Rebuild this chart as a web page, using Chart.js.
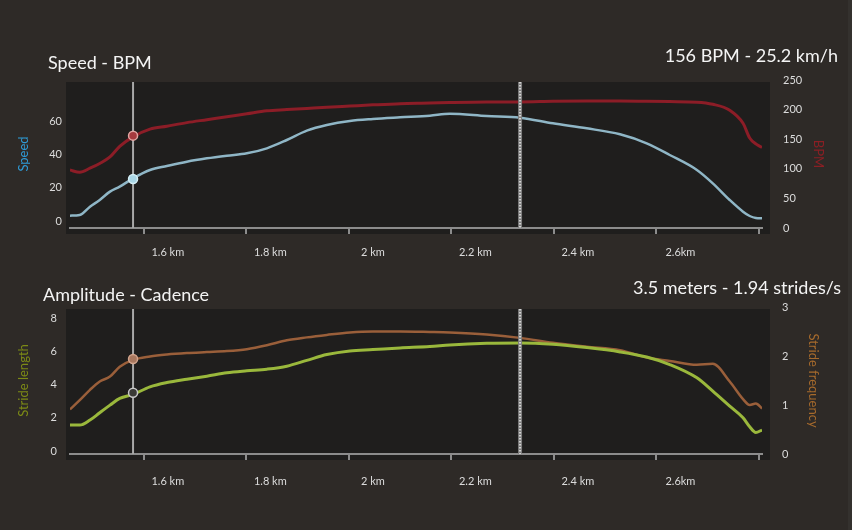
<!DOCTYPE html>
<html>
<head>
<meta charset="utf-8">
<title>Speed - BPM / Amplitude - Cadence</title>
<script src="https://cdn.jsdelivr.net/npm/chart.js@4.4.1/dist/chart.umd.min.js"></script>
<style>
  html, body { margin: 0; padding: 0; background: #2e2a27; }
  #page { position: relative; width: 852px; height: 530px; overflow: hidden; font-family: Lato, sans-serif; color: #f4f4f4; }
  .panel { position: absolute; left: 0; width: 852px; height: 265px; }
  .heading { position: absolute; font-size: 18px; line-height: 18px; white-space: nowrap; }
  #edge { position: absolute; left: 848px; top: 0; width: 4px; height: 530px; background: #34312e; }
</style>
</head>
<body>
<div id="page">
  <div class="panel" style="top:0"><canvas id="topChart" width="852" height="265"></canvas></div>
  <div class="panel" style="top:265px"><canvas id="bottomChart" width="852" height="265"></canvas></div>
  <div class="heading" style="left:48px; top:53px">Speed - BPM</div>
  <div class="heading" id="topReadout" style="right:14px; top:46px"></div>
  <div class="heading" style="left:43px; top:285px">Amplitude - Cadence</div>
  <div class="heading" id="bottomReadout" style="right:11px; top:278px"></div>
  <div id="edge"></div>
</div>

<script>
// distance along the run (km), shared by all four series
const distanceKm = [1.456, 1.475, 1.495, 1.514, 1.534, 1.553, 1.579, 1.612, 1.645, 1.684, 1.723, 1.762,
  1.801, 1.840, 1.879, 1.918, 1.957, 2.002, 2.047, 2.100, 2.158, 2.197, 2.269, 2.334,
  2.398, 2.464, 2.529, 2.581, 2.626, 2.679, 2.710, 2.743, 2.769, 2.782, 2.794, 2.806];

// top chart
const speedKmh = [3.2, 3.6, 8.6, 12.6, 17.6, 20.6, 25.6, 30.6, 33, 35.6, 37.6, 39.2,
  40.6, 43.6, 48.6, 54.2, 57.6, 60, 61.2, 62.2, 63.2, 64.4, 63, 62,
  58.6, 55.6, 52, 46.6, 39.6, 30.6, 22.6, 12.6, 5.6, 3, 1.8, 1.6];
const heartBpm = [98, 94, 101, 109, 120, 138, 154, 167, 172, 178, 183, 188,
  193, 198, 200, 202, 204, 206, 208, 210, 211, 212, 213, 213,
  214, 214.5, 214.5, 214, 213.5, 212.5, 209, 199, 177, 152, 142, 136];

// bottom chart
const strideLength = [1.56, 1.56, 1.86, 2.3, 2.76, 3.16, 3.4, 3.86, 4.12, 4.32, 4.5, 4.7,
  4.82, 4.92, 5.1, 5.45, 5.8, 6.02, 6.1, 6.2, 6.28, 6.38, 6.48, 6.5,
  6.42, 6.22, 5.96, 5.65, 5.2, 4.4, 3.6, 2.7, 2.0, 1.46, 1.12, 1.26];
const strideFreq = [0.91, 1.1, 1.31, 1.48, 1.58, 1.78, 1.92, 1.99, 2.03, 2.06, 2.08, 2.1,
  2.14, 2.22, 2.32, 2.38, 2.43, 2.48, 2.5, 2.5, 2.49, 2.48, 2.44, 2.37,
  2.27, 2.19, 2.12, 1.97, 1.9, 1.82, 1.84, 1.48, 1.12, 1.0, 1.03, 0.93];

// x axis ticks
const tickKm = [1.6, 1.8, 2.0, 2.2, 2.4, 2.6, 2.8];
const tickLabels = ['1.6 km', '1.8 km', '2 km', '2.2 km', '2.4 km', '2.6km', ''];

// y axis ticks
const speedTicks = [0, 20, 40, 60];
const bpmTicks = [0, 50, 100, 150, 200, 250];
const lengthTicks = [0, 2, 4, 6, 8];
const freqTicks = [0, 1, 2, 3];

// hover cursor and lap marker
const cursorKm = 1.579;
const cursorSpeed = 25.2;
const cursorBpm = 156;
const cursorLength = 3.5;
const cursorFreq = 1.94;
const lapKm = 2.334;

document.getElementById('topReadout').textContent = cursorBpm + ' BPM - ' + cursorSpeed + ' km/h';
document.getElementById('bottomReadout').textContent = cursorLength + ' meters - ' + cursorFreq + ' strides/s';

const tickFont = { family: 'Lato', size: 11 };
const titleFont = { family: 'Lato', size: 13 };
const tickColor = '#dcdcdc';

const toPoints = (values) => distanceKm.map((km, i) => ({ x: km, y: values[i] }));

// dark plot rectangle behind the lines
const plotBackground = {
  id: 'plotBackground',
  beforeDraw(chart) {
    const { ctx, chartArea: a } = chart;
    ctx.save();
    ctx.fillStyle = '#1f1e1d';
    ctx.fillRect(a.left - 4, a.top + 2, a.width + 12, a.height + 4);
    ctx.restore();
  }
};

// vertical hover line (under the lines) and chequered lap marker (over them)
const markers = {
  id: 'markers',
  beforeDatasetsDraw(chart) {
    const { ctx, chartArea: a } = chart;
    const x = chart.scales.x.getPixelForValue(cursorKm);
    ctx.save();
    ctx.strokeStyle = '#a8a8a8';
    ctx.lineWidth = 2;
    ctx.beginPath();
    ctx.moveTo(x, a.top + 2);
    ctx.lineTo(x, a.bottom);
    ctx.stroke();
    ctx.restore();
  },
  afterDatasetsDraw(chart) {
    const { ctx, chartArea: a } = chart;
    const x = chart.scales.x.getPixelForValue(lapKm);
    ctx.save();
    ctx.strokeStyle = '#7e7e7e';
    ctx.lineWidth = 4;
    ctx.beginPath();
    ctx.moveTo(x, a.top + 2);
    ctx.lineTo(x, a.bottom);
    ctx.stroke();
    ctx.strokeStyle = '#d4d4d4';
    ctx.lineWidth = 2;
    ctx.setLineDash([1.5, 1.5]);
    ctx.stroke();
    ctx.restore();
  }
};

function lineSet(values, axis, color, width) {
  return {
    data: toPoints(values), yAxisID: axis, borderColor: color, borderWidth: width,
    pointRadius: 0, cubicInterpolationMode: 'monotone', order: 2
  };
}

function cursorPoint(value, axis, fill, border) {
  return {
    data: [{ x: cursorKm, y: value }], yAxisID: axis, showLine: false,
    pointRadius: 4.5, pointBackgroundColor: fill, pointBorderColor: border, pointBorderWidth: 1.5, order: 0
  };
}

function yAxis(side, min, max, ticks, title, titleColor, tickPad, titlePad) {
  return {
    position: side, min: min, max: max,
    afterFit: (s) => { s.width = side === 'left' ? 70 : 90; },
    afterBuildTicks: (s) => { s.ticks = ticks.map((v) => ({ value: v })); },
    grid: { display: false, drawTicks: false },
    border: { display: false },
    ticks: { padding: tickPad, color: tickColor, font: tickFont },
    title: { display: true, text: title, color: titleColor, font: titleFont, padding: { top: titlePad, bottom: 0 } }
  };
}

function xAxis(height, labelPad) {
  return {
    type: 'linear', min: distanceKm[0], max: distanceKm[distanceKm.length - 1],
    afterFit: (s) => { s.height = height; },
    afterBuildTicks: (s) => { s.ticks = tickKm.map((v) => ({ value: v })); },
    grid: { drawOnChartArea: false, drawTicks: true, tickLength: 6, color: '#8c8c8c', lineWidth: 2 },
    border: { display: true, color: '#8c8c8c', width: 2 },
    ticks: {
      autoSkip: false, maxRotation: 0, labelOffset: 24, padding: labelPad,
      color: tickColor, font: tickFont, callback: (v, i) => tickLabels[i]
    }
  };
}

const baseOptions = (top, scales) => ({
  responsive: false,
  animation: false,
  events: [],
  layout: { padding: { top: top, left: 0, right: 0, bottom: 0 } },
  plugins: { legend: { display: false }, tooltip: { enabled: false } },
  scales: scales
});

new Chart(document.getElementById('topChart'), {
  type: 'line',
  data: {
    datasets: [
      cursorPoint(cursorBpm, 'yBpm', '#a63a3e', '#e2a6a2'),
      cursorPoint(cursorSpeed, 'ySpeed', '#a9d6e6', '#d4eef6'),
      lineSet(speedKmh, 'ySpeed', '#8fb6c6', 2.5),
      lineSet(heartBpm, 'yBpm', '#8c1d27', 3)
    ]
  },
  options: baseOptions(80, {
    x: xAxis(37, 12),
    ySpeed: yAxis('left', -4.2, 84.6, speedTicks, 'Speed', '#2f9bd6', 8, 16),
    yBpm: yAxis('right', 0, 250, bpmTicks, 'BPM', '#8a1f24', 21, 26)
  }),
  plugins: [plotBackground, markers]
});

new Chart(document.getElementById('bottomChart'), {
  type: 'line',
  data: {
    datasets: [
      cursorPoint(cursorFreq, 'yFreq', '#a8775e', '#d2a48c'),
      cursorPoint(cursorLength, 'yLength', '#3a3a36', '#c8c8c8'),
      lineSet(strideLength, 'yLength', '#9ab83c', 3),
      lineSet(strideFreq, 'yFreq', '#9a5f3a', 2.5)
    ]
  },
  options: baseOptions(42, {
    x: xAxis(76, 15),
    yLength: yAxis('left', -0.18, 8.66, lengthTicks, 'Stride length', '#7c8a16', 13, 16),
    yFreq: yAxis('right', 0, 3, freqTicks, 'Stride frequency', '#a66a2c', 20, 31)
  }),
  plugins: [plotBackground, markers]
});
</script>
</body>
</html>
